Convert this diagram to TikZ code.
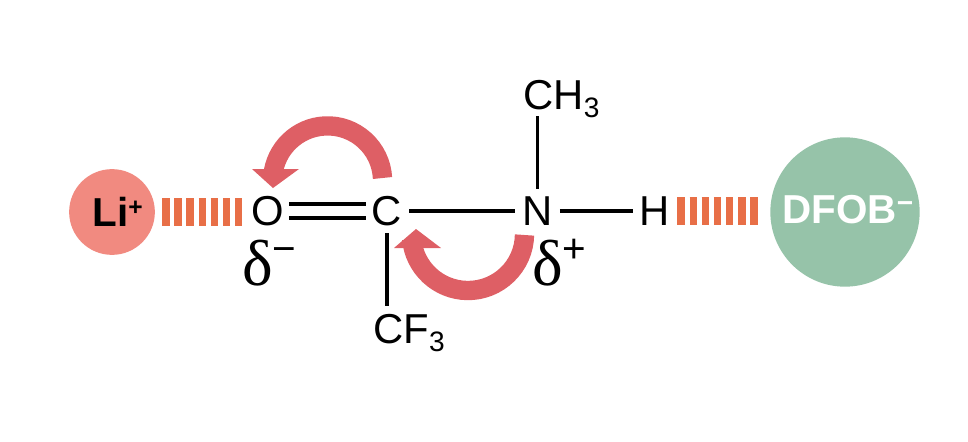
\documentclass[tikz,border=0pt]{standalone}
\usepackage{fontspec}
\setmainfont{Liberation Sans}
\newfontfamily\deltafont{Liberation Serif}
\definecolor{lired}{HTML}{F18A80}
\definecolor{dfobgreen}{HTML}{96C3A9}
\definecolor{hashorange}{HTML}{E86F47}
\definecolor{arrowred}{HTML}{DE5F65}
\newcommand{\subthree}{\raisebox{-4.6pt}{\fontsize{16}{16}\selectfont 3}}
\tikzset{
	atom/.style={inner sep=4pt,text height=17pt,text depth=0pt,font=\fontsize{23.8}{25}\selectfont},
	bond/.style={line width=1.9pt,black},
	hashbond/.style={line width=16pt,hashorange,dash pattern=on 4.25pt off 2.65pt},
	curlyline/.style={line width=11pt,arrowred},
	charge/.style={inner sep=0pt,font=\fontsize{23}{24}\selectfont},
}
\begin{document}
\begin{tikzpicture}[x=0.02cm,y=0.02cm]
	\useasboundingbox (0,0) rectangle (968,441);

	% ions
	\node[circle,fill=lired,minimum size=48.8pt,inner sep=0pt] (li) at (112,229) {};
	\node[circle,fill=dfobgreen,minimum size=85pt,inner sep=0pt] (dfob) at (845,229) {};
	\node[inner sep=0pt,font=\fontsize{23}{24}\selectfont\bfseries,anchor=base west] (litext) at (92,215) {Li\raisebox{6pt}{\fontsize{14}{14}\selectfont +}};
	\node[inner sep=0pt,white,font=\fontsize{23}{24}\selectfont\bfseries,anchor=base west] (dfobtext) at (782,218) {DFOB\raisebox{6pt}{\fontsize{16}{16}\selectfont −}};

	% atoms
	\node[atom] (o) at (268,230) {O};
	\node[atom] (c) at (387,230) {C};
	\node[atom] (n) at (537.5,230) {N};
	\node[atom] (h) at (655,230) {H};
	\node[atom,anchor=base west] (ch3) at (516,332) {CH\subthree};
	\node[atom,anchor=base west] (cf3) at (366,98) {CF\subthree};

	% bonds
	\draw[bond,shorten <=-1.5pt,shorten >=-1pt] ([yshift=3.9pt]o.east) -- ([yshift=3.9pt]c.west);
	\draw[bond,shorten <=-1.5pt,shorten >=-1pt] ([yshift=-3.9pt]o.east) -- ([yshift=-3.9pt]c.west);
	\draw[bond] (c) -- (n);
	\draw[bond] (n) -- (h);
	\draw[bond] (n) -- (n |- ch3.south);
	\draw[bond] (c) -- (c |- cf3.north);

	% hydrogen bonds
	\draw[hashbond,shorten <=4pt,shorten >=1pt] (li.east) -- (li.east -| o.west);
	\draw[hashbond,shorten <=0pt,shorten >=6pt] (h.east) -- (h.east -| dfob.west);

	% partial charges
	\node[charge,anchor=base west] (dminus) at (242,156) {{\deltafont\fontsize{37}{38}\selectfont δ}\raisebox{13pt}{−}};
	\node[charge,anchor=base west] (dplus) at (532,156) {{\deltafont\fontsize{37}{38}\selectfont δ}\raisebox{13pt}{+}};

	% curly arrows
	\draw[curlyline] (382.5,263) arc[start angle=3,end angle=175,radius=55];
	\fill[arrowred] (252,272) -- (299,272) -- (273,253) -- cycle;
	\draw[curlyline] (524.5,206) arc[start angle=-1,end angle=-175,radius=56.5];
	\fill[arrowred] (394,193) -- (441,193) -- (416,212) -- cycle;
\end{tikzpicture}
\end{document}
